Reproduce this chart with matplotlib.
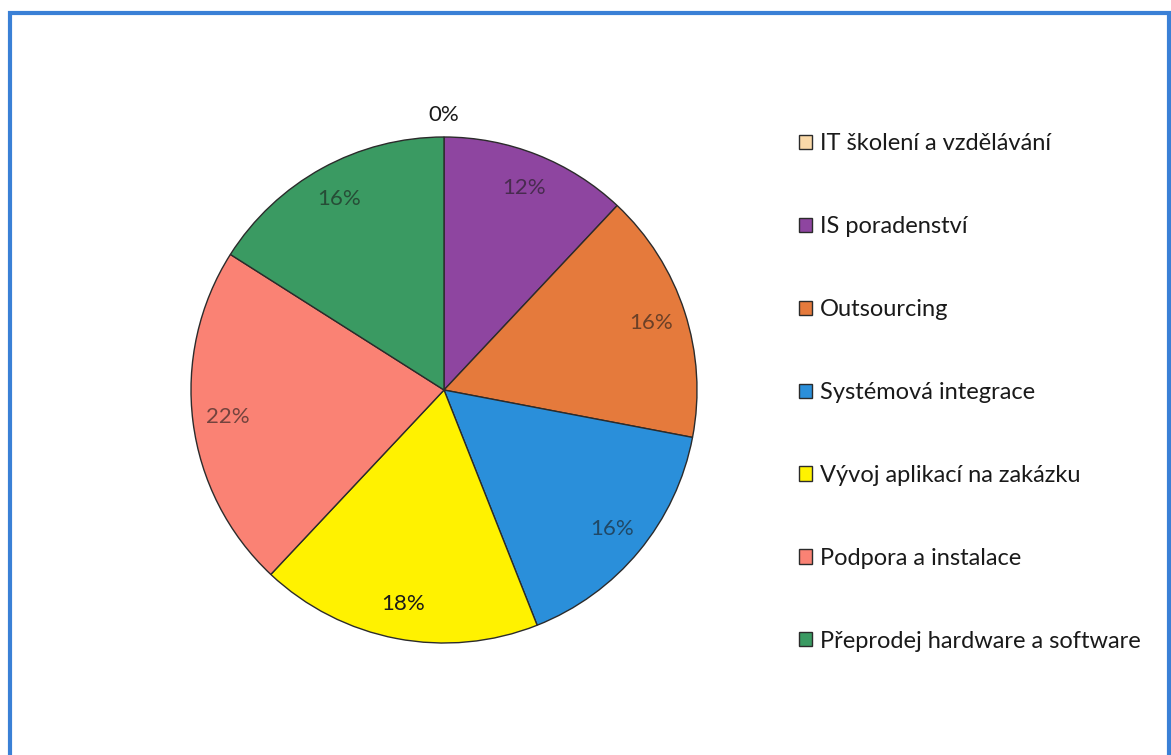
"""Pie chart of IT service segments with a side legend."""
import matplotlib
matplotlib.use('Agg')
import matplotlib.pyplot as plt
from matplotlib.patches import Rectangle, Patch

plt.rcParams['font.family'] = ['Lato', 'DejaVu Sans']

categories = [
    'IT školení a vzdělávání',
    'IS poradenství',
    'Outsourcing',
    'Systémová integrace',
    'Vývoj aplikací na zakázku',
    'Podpora a instalace',
    'Přeprodej hardware a software',
]
shares = [0, 12, 16, 16, 18, 22, 16]
colors = ['#FAD9A8', '#8E45A0', '#E57A3C', '#2A8FDA', '#FFF200', '#FA8274', '#3A9A62']

W, H = 1171, 755
fig = plt.figure(figsize=(W / 100, H / 100), dpi=100)
fig.patch.set_facecolor('white')

# pie centre (444, 390) px, radius 253 px
cx, cy, r = 444, 390, 253
ax = fig.add_axes([(cx - r) / W, (H - cy - r) / H, 2 * r / W, 2 * r / H])

wedges, texts, autotexts = ax.pie(
    shares, colors=colors, startangle=90, counterclock=False, radius=1.0,
    autopct=lambda p: f'{p:.0f}%', pctdistance=0.86,
    wedgeprops={'edgecolor': '#2b2b2b', 'linewidth': 1.0},
    textprops={'fontsize': 16},
)
ax.set_xlim(-1, 1)
ax.set_ylim(-1, 1)
ax.set_aspect('equal')
ax.axis('off')

for t, s in zip(autotexts, shares):
    t.set_color('#1a1a1a')
    if s == 0:
        t.set_position((0, 1.085))
    elif s != 18:
        t.set_alpha(0.6)

handles = [Patch(facecolor=c, edgecolor='#2b2b2b', linewidth=1.0) for c in colors]
fig.legend(handles, categories, loc='upper left',
           bbox_to_anchor=(790 / W, 1 - 124 / H), frameon=False,
           fontsize=17, handlelength=0.55, handleheight=0.55,
           handletextpad=0.3, labelspacing=2.62, borderaxespad=0,
           labelcolor='#1a1a1a')

# blue frame around the chart area
fig.add_artist(Rectangle((10 / W, -0.05), (1169 - 10) / W, 1.05 - 13 / H,
                         transform=fig.transFigure, fill=False,
                         edgecolor='#3A80D6', linewidth=3, clip_on=False))

fig.savefig('out.png', dpi=100, facecolor='white')
